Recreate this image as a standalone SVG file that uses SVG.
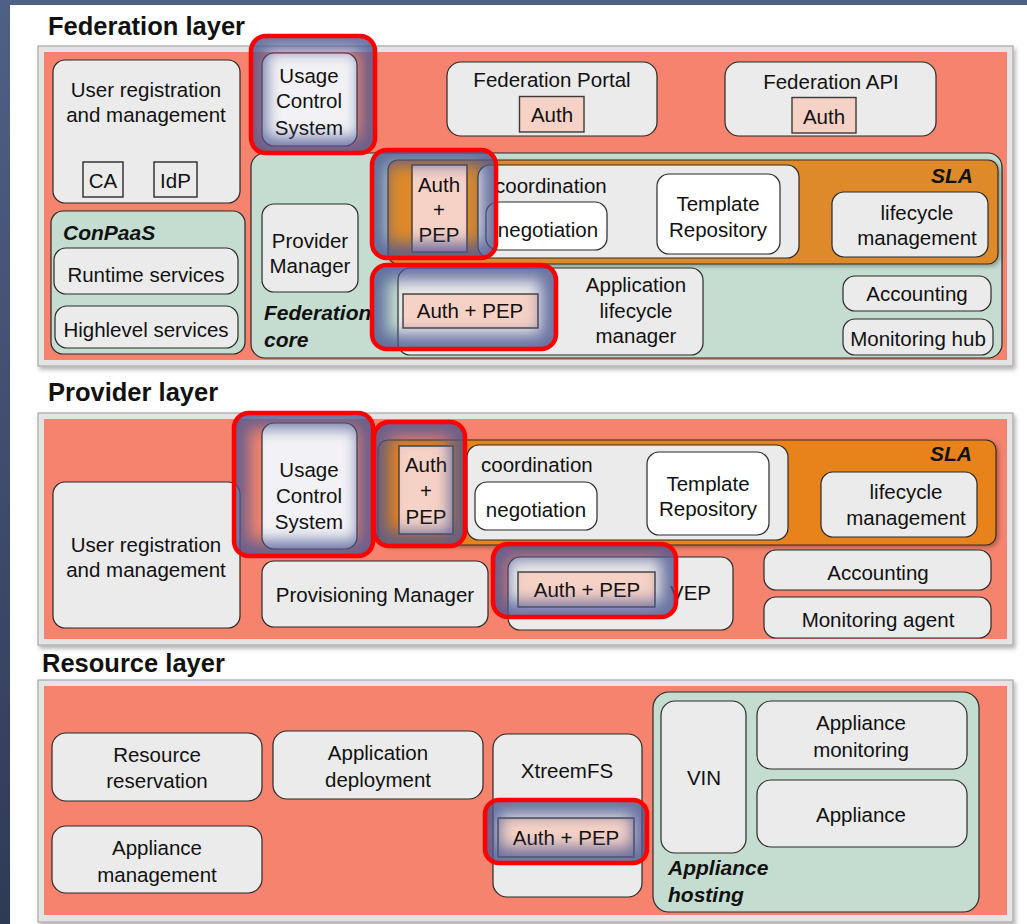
<svg xmlns="http://www.w3.org/2000/svg" width="1027" height="924" viewBox="0 0 1027 924">
<style>
.t{font-family:"Liberation Sans",Arial,sans-serif;font-size:20.5px;fill:#111;text-anchor:middle}
.s{text-anchor:start}
.e{text-anchor:end}
.bi{font-family:"Liberation Sans",Arial,sans-serif;font-size:21px;font-weight:bold;font-style:italic;fill:#111}
.title{font-family:"Liberation Sans",Arial,sans-serif;font-size:25.5px;font-weight:bold;fill:#111}
.frame{fill:#e4e4e4;stroke:#a8a8a8;stroke-width:1.2;filter:url(#shadow)}
.salmon{fill:#f5836d}
.node{fill:#ebebeb;stroke:#2a2a2a;stroke-width:1.2}
.ucs{fill:#f2f2f6;stroke:#2a2a2a;stroke-width:1.2}
.white{fill:#ffffff;stroke:#2a2a2a;stroke-width:1.2}
.green{fill:#c4ddd0;stroke:#2a2a2a;stroke-width:1.2}
.orange1{fill:#de8a2c;stroke:#3a2a1a;stroke-width:1.2;filter:url(#shadow2)}
.orange2{fill:#e8831f;stroke:#3a2a1a;stroke-width:1.2;filter:url(#shadow2)}
.auth{fill:#f6d2c6;stroke:#3a3a3a;stroke-width:1.4}
.sq{fill:#ebebeb;stroke:#2a2a2a;stroke-width:1.4}
.glow{fill:none;stroke:#4d5892;stroke-width:30;opacity:0.82;filter:url(#blur)}
.hl{fill:none;stroke:#ff0000;stroke-width:4.5}
</style>
<defs>
<linearGradient id="bg" x1="0" y1="0" x2="0" y2="1">
<stop offset="0" stop-color="#4f6087"/>
<stop offset="1" stop-color="#2f3a55"/>
</linearGradient>
<filter id="shadow" x="-5%" y="-5%" width="110%" height="115%">
<feDropShadow dx="2" dy="3" stdDeviation="2" flood-color="#000" flood-opacity="0.3"/>
</filter>
<filter id="shadow2" x="-5%" y="-10%" width="110%" height="125%">
<feDropShadow dx="2" dy="2" stdDeviation="2" flood-color="#000" flood-opacity="0.3"/>
</filter>
<filter id="blur" x="-40%" y="-40%" width="180%" height="180%">
<feGaussianBlur stdDeviation="7.5"/>
</filter>
<clipPath id="c1"><rect x="251" y="36" width="124" height="117" rx="15"/></clipPath>
<clipPath id="c2"><rect x="372" y="150" width="124" height="108" rx="15"/></clipPath>
<clipPath id="c3"><rect x="372" y="265" width="184" height="84" rx="15"/></clipPath>
<clipPath id="c4"><rect x="234" y="413" width="139" height="143" rx="15"/></clipPath>
<clipPath id="c5"><rect x="374" y="422" width="91" height="124" rx="15"/></clipPath>
<clipPath id="c6"><rect x="493" y="544" width="183" height="73" rx="15"/></clipPath>
<clipPath id="c7"><rect x="485" y="800" width="162" height="63" rx="14"/></clipPath>
</defs>

<rect x="0" y="0" width="1027" height="924" fill="url(#bg)"/>
<rect x="10" y="5" width="1017" height="919" fill="#ffffff"/>

<!-- ============ Federation layer ============ -->
<g id="federation-layer">
<text class="title" x="48" y="35">Federation layer</text>
<rect class="frame" x="38" y="46" width="975" height="320"/>
<rect class="salmon" x="44" y="52" width="963" height="308"/>
</g>

<g id="fed-user-registration">
<rect class="node" x="53" y="60" width="187" height="143" rx="12"/>
<text class="t" x="146" y="97">User registration</text>
<text class="t" x="146" y="122">and management</text>
<rect class="sq" x="83" y="162" width="40" height="35"/>
<text class="t" x="103" y="188">CA</text>
<rect class="sq" x="154" y="162" width="43" height="35"/>
<text class="t" x="175.5" y="188">IdP</text>
</g>

<g id="fed-conpaas">
<rect class="green" x="51" y="211" width="194" height="143" rx="12"/>
<text class="bi" x="63" y="240">ConPaaS</text>
<rect class="node" x="54" y="248" width="184" height="46" rx="12"/>
<text class="t" x="146" y="282">Runtime services</text>
<rect class="node" x="55" y="306" width="183" height="42" rx="12"/>
<text class="t" x="146" y="337">Highlevel services</text>
</g>

<g id="fed-portal">
<rect class="node" x="447" y="62" width="210" height="74" rx="14"/>
<text class="t" x="552" y="87">Federation Portal</text>
<rect class="auth" x="519.5" y="96.5" width="64.5" height="35.5"/>
<text class="t" x="552" y="122">Auth</text>
</g>

<g id="fed-api">
<rect class="node" x="725" y="62" width="211" height="74" rx="14"/>
<text class="t" x="831" y="89">Federation API</text>
<rect class="auth" x="792" y="97.5" width="64" height="35.5"/>
<text class="t" x="824" y="124">Auth</text>
</g>

<g id="fed-core">
<rect class="green" x="251" y="153" width="751" height="205" rx="14"/>
<text class="bi" x="264" y="320">Federation</text>
<text class="bi" x="264" y="347">core</text>
</g>

<g id="fed-provider-manager">
<rect class="node" x="262" y="204" width="96" height="88" rx="12"/>
<text class="t" x="310" y="248">Provider</text>
<text class="t" x="310" y="273">Manager</text>
</g>

<g id="fed-sla">
<rect class="orange1" x="388" y="160" width="610" height="104" rx="10"/>
<text class="bi e" x="973" y="183" text-anchor="end">SLA</text>
<rect class="node" x="478" y="165" width="321" height="93" rx="12"/>
<text class="t s" x="495" y="193">coordination</text>
<rect class="white" x="486" y="202" width="121" height="48" rx="12"/>
<text class="t" x="548" y="237">negotiation</text>
<rect class="white" x="657" y="174" width="123" height="80" rx="12"/>
<text class="t" x="718" y="211">Template</text>
<text class="t" x="718" y="237">Repository</text>
<rect class="node" x="832" y="192" width="156" height="65" rx="12"/>
<text class="t" x="917" y="220">lifecycle</text>
<text class="t" x="917" y="245">management</text>
<rect class="auth" x="412" y="165" width="55" height="87"/>
<text class="t" x="439" y="192">Auth</text>
<text class="t" x="439" y="217">+</text>
<text class="t" x="439" y="242">PEP</text>
</g>

<g id="fed-app-lifecycle">
<rect class="node" x="398" y="268" width="305" height="87" rx="12"/>
<text class="t" x="636" y="292">Application</text>
<text class="t" x="636" y="318">lifecycle</text>
<text class="t" x="636" y="343">manager</text>
<rect class="auth" x="403" y="294" width="135" height="34"/>
<text class="t" x="470" y="318">Auth + PEP</text>
</g>

<g id="fed-accounting">
<rect class="node" x="843" y="276" width="148" height="35" rx="12"/>
<text class="t" x="917" y="301">Accounting</text>
</g>
<g id="fed-monitoring-hub">
<rect class="node" x="843" y="319" width="150" height="36" rx="12"/>
<text class="t" x="918" y="346">Monitoring hub</text>
</g>

<g id="fed-ucs">
<rect class="ucs" x="262" y="53" width="95" height="93" rx="12"/>
<text class="t" x="309" y="83">Usage</text>
<text class="t" x="309" y="108">Control</text>
<text class="t" x="309" y="135">System</text>
</g>

<g id="fed-highlights">
<g clip-path="url(#c1)"><rect class="glow" x="251" y="36" width="124" height="117" rx="15"/></g>
<rect class="hl" x="251" y="36" width="124" height="117" rx="15"/>
<g clip-path="url(#c2)"><rect class="glow" x="372" y="150" width="124" height="108" rx="15"/></g>
<rect class="hl" x="372" y="150" width="124" height="108" rx="15"/>
<g clip-path="url(#c3)"><rect class="glow" x="372" y="265" width="184" height="84" rx="15"/></g>
<rect class="hl" x="372" y="265" width="184" height="84" rx="15"/>
</g>

<!-- ============ Provider layer ============ -->
<g id="provider-layer">
<text class="title" x="48" y="401">Provider layer</text>
<rect class="frame" x="38" y="413" width="975" height="232"/>
<rect class="salmon" x="44" y="419" width="963" height="220"/>
</g>

<g id="prov-user-registration">
<rect class="node" x="53" y="482" width="187" height="146" rx="12"/>
<text class="t" x="146" y="552">User registration</text>
<text class="t" x="146" y="577">and management</text>
</g>

<g id="prov-ucs">
<rect class="ucs" x="262" y="423" width="95" height="126" rx="12"/>
<text class="t" x="309" y="477">Usage</text>
<text class="t" x="309" y="503">Control</text>
<text class="t" x="309" y="529">System</text>
</g>

<g id="prov-sla">
<rect class="orange2" x="378" y="440" width="618" height="105" rx="10"/>
<text class="bi e" x="972" y="461" text-anchor="end">SLA</text>
<rect class="node" x="467" y="445" width="321" height="95" rx="12"/>
<text class="t s" x="481" y="472">coordination</text>
<rect class="white" x="475" y="482" width="122" height="48" rx="12"/>
<text class="t" x="536" y="517">negotiation</text>
<rect class="white" x="647" y="452" width="122" height="83" rx="12"/>
<text class="t" x="708" y="491">Template</text>
<text class="t" x="708" y="516">Repository</text>
<rect class="node" x="821" y="472" width="156" height="65" rx="12"/>
<text class="t" x="906" y="499">lifecycle</text>
<text class="t" x="906" y="525">management</text>
<rect class="auth" x="399" y="446" width="54" height="88"/>
<text class="t" x="426" y="472">Auth</text>
<text class="t" x="426" y="498">+</text>
<text class="t" x="426" y="524">PEP</text>
</g>

<g id="prov-provisioning-manager">
<rect class="node" x="262" y="561" width="226" height="66" rx="12"/>
<text class="t" x="375" y="602">Provisioning Manager</text>
</g>

<g id="prov-vep">
<rect class="node" x="508" y="557" width="225" height="73" rx="12"/>
<text class="t s" x="670" y="600">VEP</text>
<rect class="auth" x="518" y="572" width="137" height="35"/>
<text class="t" x="587" y="597">Auth + PEP</text>
</g>

<g id="prov-accounting">
<rect class="node" x="764" y="550" width="227" height="40" rx="12"/>
<text class="t" x="878" y="580">Accounting</text>
</g>
<g id="prov-monitoring-agent">
<rect class="node" x="764" y="597" width="227" height="41" rx="12"/>
<text class="t" x="878" y="627">Monitoring agent</text>
</g>

<g id="prov-highlights">
<g clip-path="url(#c4)"><rect class="glow" x="234" y="413" width="139" height="143" rx="15"/></g>
<rect class="hl" x="234" y="413" width="139" height="143" rx="15"/>
<g clip-path="url(#c5)"><rect class="glow" x="374" y="422" width="91" height="124" rx="15"/></g>
<rect class="hl" x="374" y="422" width="91" height="124" rx="15"/>
<g clip-path="url(#c6)"><rect class="glow" x="493" y="544" width="183" height="73" rx="15"/></g>
<rect class="hl" x="493" y="544" width="183" height="73" rx="15"/>
</g>

<!-- ============ Resource layer ============ -->
<g id="resource-layer">
<text class="title" x="42" y="672">Resource layer</text>
<rect class="frame" x="38" y="680" width="975" height="242"/>
<rect class="salmon" x="44" y="686" width="963" height="229"/>
</g>

<g id="res-resource-reservation">
<rect class="node" x="52" y="733" width="210" height="68" rx="14"/>
<text class="t" x="157" y="762">Resource</text>
<text class="t" x="157" y="788">reservation</text>
</g>
<g id="res-appliance-management">
<rect class="node" x="52" y="826" width="210" height="67" rx="14"/>
<text class="t" x="157" y="855">Appliance</text>
<text class="t" x="157" y="882">management</text>
</g>
<g id="res-application-deployment">
<rect class="node" x="273" y="731" width="210" height="68" rx="14"/>
<text class="t" x="378" y="760">Application</text>
<text class="t" x="378" y="787">deployment</text>
</g>
<g id="res-xtreemfs">
<rect class="node" x="493" y="734" width="149" height="163" rx="14"/>
<text class="t" x="567" y="778">XtreemFS</text>
<rect class="auth" x="498" y="818" width="136" height="39"/>
<text class="t" x="566" y="845">Auth + PEP</text>
</g>
<g id="res-appliance-hosting">
<rect class="green" x="653" y="692" width="326" height="220" rx="16"/>
<text class="bi" x="668" y="875">Appliance</text>
<text class="bi" x="668" y="902">hosting</text>
<rect class="node" x="661" y="701" width="85" height="152" rx="14"/>
<text class="t" x="704" y="785">VIN</text>
<rect class="node" x="757" y="701" width="210" height="68" rx="14"/>
<text class="t" x="861" y="730">Appliance</text>
<text class="t" x="861" y="757">monitoring</text>
<rect class="node" x="757" y="780" width="210" height="67" rx="14"/>
<text class="t" x="861" y="822">Appliance</text>
</g>

<g id="res-highlights">
<g clip-path="url(#c7)"><rect class="glow" x="485" y="800" width="162" height="63" rx="14"/></g>
<rect class="hl" x="485" y="800" width="162" height="63" rx="14"/>
</g>

<g id="connectors"></g>
</svg>
